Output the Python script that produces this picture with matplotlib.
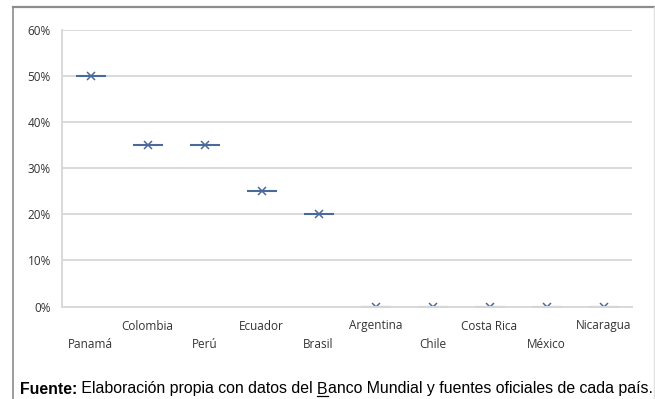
import matplotlib
matplotlib.use("Agg")
import matplotlib.pyplot as plt
from matplotlib.lines import Line2D
from matplotlib.ticker import FuncFormatter

# データ
paises = ["Panamá", "Colombia", "Perú", "Ecuador", "Brasil",
          "Argentina", "Chile", "Costa Rica", "México", "Nicaragua"]
valores = [0.50, 0.35, 0.35, 0.25, 0.20, 0.0, 0.0, 0.0, 0.0, 0.0]
y_ticks = [0.0, 0.1, 0.2, 0.3, 0.4, 0.5, 0.6]

W, H = 655, 399
fig = plt.figure(figsize=(W / 100, H / 100), dpi=100)
ax = fig.add_axes([62 / W, 1 - 306.5 / H, 570 / W, 276.5 / H])

azul = "#4a6a9c"
x = list(range(len(paises)))
ax.plot(x, valores, linestyle="none", marker="_", ms=21, mew=1.5, color=azul, zorder=2)
ax.plot(x, valores, linestyle="none", marker="x", ms=6, mew=1.1, color=azul, zorder=2)

ax.set_xlim(-0.5, len(paises) - 0.5)
ax.set_ylim(0, 0.6)
ax.set_yticks(y_ticks)
ax.yaxis.set_major_formatter(FuncFormatter(lambda v, p: f"{v * 100:.0f}%"))
ax.grid(axis="y", color="#d9d9d9", linewidth=1.4)
ax.set_axisbelow(True)
for s in ["top", "right"]:
    ax.spines[s].set_visible(False)
for s in ["left", "bottom"]:
    ax.spines[s].set_color("#d9d9d9")
    ax.spines[s].set_linewidth(1.4)
ax.tick_params(axis="y", length=0, pad=8, labelsize=8.5, labelcolor="#333333")
ax.tick_params(axis="x", length=0)
ax.set_xticks([])

# 国名（2段で交互に配置）
for i, p in enumerate(paises):
    yy = 344 if i % 2 == 0 else 326
    fig.text((62 + 57 * i + 28.5) / W, 1 - yy / H, p, ha="center", va="center",
             fontsize=8.5, color="#333333", family="Open Sans")
for lab in ax.get_yticklabels():
    lab.set_family("Open Sans")

# 外枠
fig.add_artist(Line2D([13 / W, 654 / W], [1 - 6.5 / H, 1 - 6.5 / H], color="#8c8c8c", lw=1.6))
fig.add_artist(Line2D([13 / W, 13 / W], [0, 1 - 6.5 / H], color="#8c8c8c", lw=1.2))
fig.add_artist(Line2D([654 / W, 654 / W], [0, 1 - 6.5 / H], color="#e0e0e0", lw=1.0))

# 出典
renderer = fig.canvas.get_renderer()
partes = [("Fuente:", "bold", False), (" Elaboración propia con datos del ", "normal", False),
          ("B", "normal", True), ("anco Mundial y fuentes oficiales de cada país.", "normal", False)]
xp = 20
yp = 389
for txt, peso, sub in partes:
    t = fig.text(xp / W, 1 - yp / H, txt, fontsize=11.4, fontweight=peso,
                 family="Liberation Sans", color="#000000", va="center", ha="left")
    bb = t.get_window_extent(renderer)
    if sub:
        fig.add_artist(Line2D([bb.x0 / W, bb.x1 / W], [(bb.y0 + 1) / H, (bb.y0 + 1) / H],
                              color="black", lw=0.9))
    xp += bb.width

fig.savefig("out.png", dpi=100)
